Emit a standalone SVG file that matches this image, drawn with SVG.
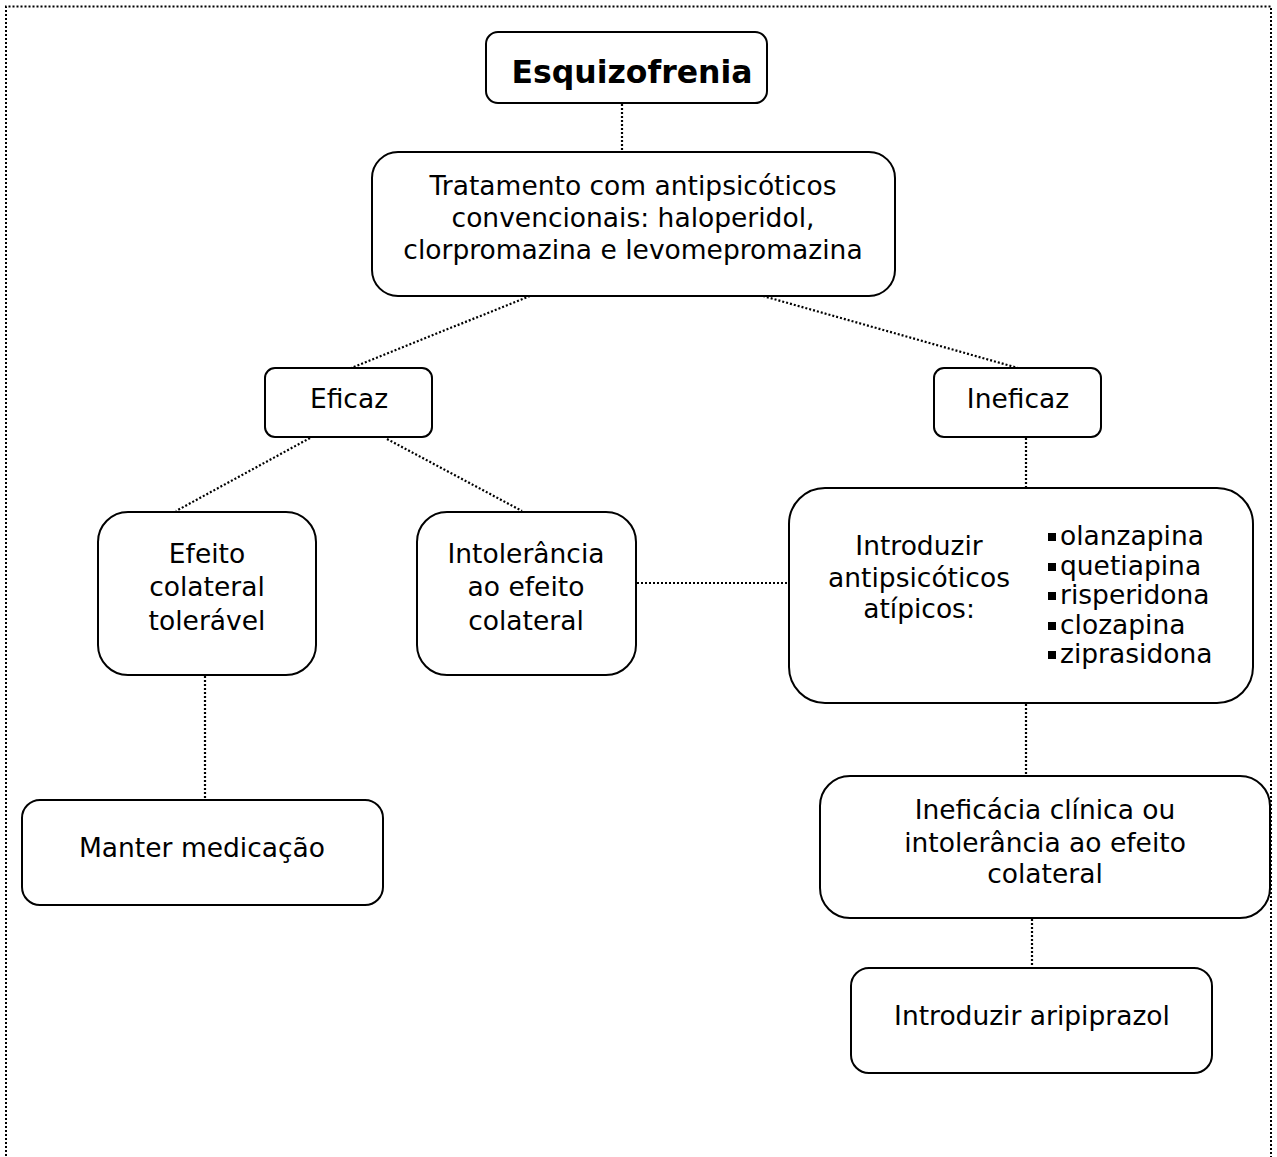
<svg xmlns="http://www.w3.org/2000/svg" width="1277" height="1157" viewBox="0 0 1277 1157">
<style>
.box{fill:#fff;stroke:#000;stroke-width:2}
.t{font-family:"DejaVu Sans",Verdana,sans-serif;font-size:26.5px;fill:#000;text-anchor:middle}
.tl{text-anchor:start}
.b{font-weight:bold;font-size:31.5px}
.c{stroke:#000;stroke-width:2.2;stroke-dasharray:2 2;fill:none}
.frame{stroke:#000;stroke-width:2;stroke-dasharray:2 2;fill:none}
</style>
<rect width="1277" height="1157" fill="#fff"/>
<path class="frame" d="M6,1160 V6.5 H1271 V1160"/>
<g id="connectors">
<line class="c" x1="622" y1="104" x2="622" y2="151"/>
<line class="c" x1="530" y1="296" x2="351" y2="368"/>
<line class="c" x1="763" y1="296" x2="1018" y2="368"/>
<line class="c" x1="310" y1="438" x2="176" y2="511"/>
<line class="c" x1="387" y1="439" x2="522" y2="511"/>
<line class="c" x1="1026" y1="438" x2="1026" y2="487"/>
<line class="c" x1="637" y1="583" x2="789" y2="583"/>
<line class="c" x1="1026" y1="704" x2="1026" y2="775"/>
<line class="c" x1="1032" y1="919" x2="1032" y2="967"/>
<line class="c" x1="205" y1="676" x2="205" y2="799"/>
</g>
<g id="esquizofrenia">
<rect class="box" x="486" y="32" width="281" height="71" rx="12"/>
<text class="t b" x="632" y="83">Esquizofrenia</text>
</g>
<g id="tratamento">
<rect class="box" x="372" y="152" width="523" height="144" rx="26"/>
<text class="t" x="633" y="195">Tratamento com antipsicóticos</text>
<text class="t" x="633" y="227">convencionais: haloperidol,</text>
<text class="t" x="633" y="259">clorpromazina e levomepromazina</text>
</g>
<g id="eficaz">
<rect class="box" x="265" y="368" width="167" height="69" rx="10"/>
<text class="t" x="349" y="408">Eficaz</text>
</g>
<g id="ineficaz">
<rect class="box" x="934" y="368" width="167" height="69" rx="10"/>
<text class="t" x="1018" y="408">Ineficaz</text>
</g>
<g id="efeito-toleravel">
<rect class="box" x="98" y="512" width="218" height="163" rx="30"/>
<text class="t" x="207" y="563">Efeito</text>
<text class="t" x="207" y="596">colateral</text>
<text class="t" x="207" y="630">tolerável</text>
</g>
<g id="intolerancia">
<rect class="box" x="417" y="512" width="219" height="163" rx="30"/>
<text class="t" x="526" y="563">Intolerância</text>
<text class="t" x="526" y="596">ao efeito</text>
<text class="t" x="526" y="630">colateral</text>
</g>
<g id="introduzir-atipicos">
<rect class="box" x="789" y="488" width="464" height="215" rx="36"/>
<text class="t" x="919" y="555">Introduzir</text>
<text class="t" x="919" y="587">antipsicóticos</text>
<text class="t" x="919" y="618">atípicos:</text>
<g>
<rect x="1048" y="533" width="8" height="8"/>
<rect x="1048" y="563" width="8" height="8"/>
<rect x="1048" y="592" width="8" height="8"/>
<rect x="1048" y="622" width="8" height="8"/>
<rect x="1048" y="651" width="8" height="8"/>
</g>
<text class="t tl" x="1060" y="545">olanzapina</text>
<text class="t tl" x="1060" y="575">quetiapina</text>
<text class="t tl" x="1060" y="604">risperidona</text>
<text class="t tl" x="1060" y="634">clozapina</text>
<text class="t tl" x="1060" y="663">ziprasidona</text>
</g>
<g id="manter">
<rect class="box" x="22" y="800" width="361" height="105" rx="18"/>
<text class="t" x="202" y="857">Manter medicação</text>
</g>
<g id="ineficacia">
<rect class="box" x="820" y="776" width="450" height="142" rx="30"/>
<text class="t" x="1045" y="819">Ineficácia clínica ou</text>
<text class="t" x="1045" y="852">intolerância ao efeito</text>
<text class="t" x="1045" y="883">colateral</text>
</g>
<g id="aripiprazol">
<rect class="box" x="851" y="968" width="361" height="105" rx="18"/>
<text class="t" x="1032" y="1025">Introduzir aripiprazol</text>
</g>
</svg>
